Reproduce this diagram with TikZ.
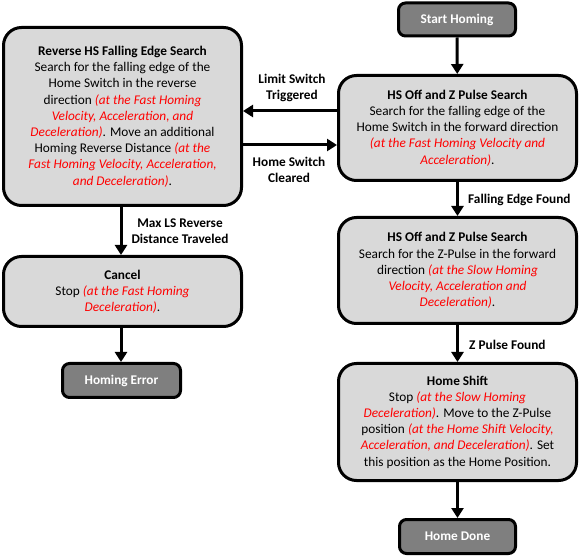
\documentclass[tikz,border=0pt]{standalone}
\usepackage{fontspec}
\setmainfont{Carlito}
\usetikzlibrary{arrows.meta}
\definecolor{boxgray}{HTML}{D9D9D9}
\definecolor{darkgray}{HTML}{7F7F7F}
\newcommand\rt[1]{\textcolor{red}{\textit{#1}}}
\begin{document}
\begin{tikzpicture}[x=1pt,y=-1pt,
  every node/.style={font=\fontsize{13.3}{16.2}\selectfont},
  bigbox/.style={draw=black,line width=3pt,fill=boxgray,rounded corners=18pt,
     minimum width=238pt,align=center,inner sep=0pt},
  termbox/.style={draw=black,line width=3pt,fill=darkgray,rounded corners=7pt,
     text=white,font=\fontsize{13.3}{16.2}\selectfont\bfseries,inner sep=0pt},
  lbl/.style={font=\fontsize{13.3}{16.2}\selectfont\bfseries,align=center,inner sep=0pt},
  arr/.style={line width=3pt,-{Triangle[length=10pt,width=12pt]}}]
\useasboundingbox (0,0) rectangle (579,556);
\node[termbox,minimum width=117pt,minimum height=33pt] (start) at (457,19.5) {Start Homing};
\node[bigbox,minimum height=105pt] (hs1) at (457.5,128) {\textbf{HS Off and Z Pulse Search}\\Search for the falling edge of the\\Home Switch in the forward direction\\\rt{(at the Fast Homing Velocity and}\\\rt{Acceleration)}.};
\node[bigbox,minimum height=106pt] (hs2) at (457.5,270.5) {\textbf{HS Off and Z Pulse Search}\\Search for the Z-Pulse in the forward\\direction \rt{(at the Slow Homing}\\\rt{Velocity, Acceleration and}\\\rt{Deceleration)}.};
\node[bigbox,minimum height=117pt] (shift) at (457.5,422) {\textbf{Home Shift}\\Stop \rt{(at the Slow Homing}\\\rt{Deceleration)}. Move to the Z-Pulse\\position \rt{(at the Home Shift Velocity,}\\\rt{Acceleration, and Deceleration)}. Set\\this position as the Home Position.};
\node[termbox,minimum width=116pt,minimum height=34pt] (done) at (457.5,536.5) {Home Done};
\node[bigbox,minimum height=178pt] (rev) at (122.5,116.5) {\textbf{Reverse HS Falling Edge Search}\\Search for the falling edge of the\\Home Switch in the reverse\\direction \rt{(at the Fast Homing}\\\rt{Velocity, Acceleration, and}\\\rt{Deceleration)}. Move an additional\\Homing Reverse Distance \rt{(at the}\\\rt{Fast Homing Velocity, Acceleration,}\\\rt{and Deceleration)}.};
\node[bigbox,minimum height=70pt] (cancel) at (122.5,291.5) {\textbf{Cancel}\\Stop \rt{(at the Fast Homing}\\\rt{Deceleration)}.};
\node[termbox,minimum width=118pt,minimum height=34pt] (err) at (121.5,380.5) {Homing Error};
\node[lbl] (l1) at (292,88) {Limit Switch\\Triggered};
\node[lbl] (l2) at (289,170) {Home Switch\\Cleared};
\node[lbl] (l3) at (180,231) {Max LS Reverse\\Distance Traveled};
\node[lbl,anchor=west] (l4) at (468,200) {Falling Edge Found};
\node[lbl,anchor=west] (l5) at (469,345) {Z Pulse Found};
\draw[arr] (start) -- (hs1);
\draw[arr] (hs1) -- (hs2);
\draw[arr] (hs2) -- (shift);
\draw[arr] (shift) -- (done);
\draw[arr] (hs1.west |- 0,111) -- (rev.east |- 0,111);
\draw[arr] (rev.east |- 0,145) -- (hs1.west |- 0,145);
\draw[arr] (rev.south -| 121,0) -- (cancel.north -| 121,0);
\draw[arr] (cancel.south -| 121,0) -- (err.north -| 121,0);
\end{tikzpicture}
\end{document}
